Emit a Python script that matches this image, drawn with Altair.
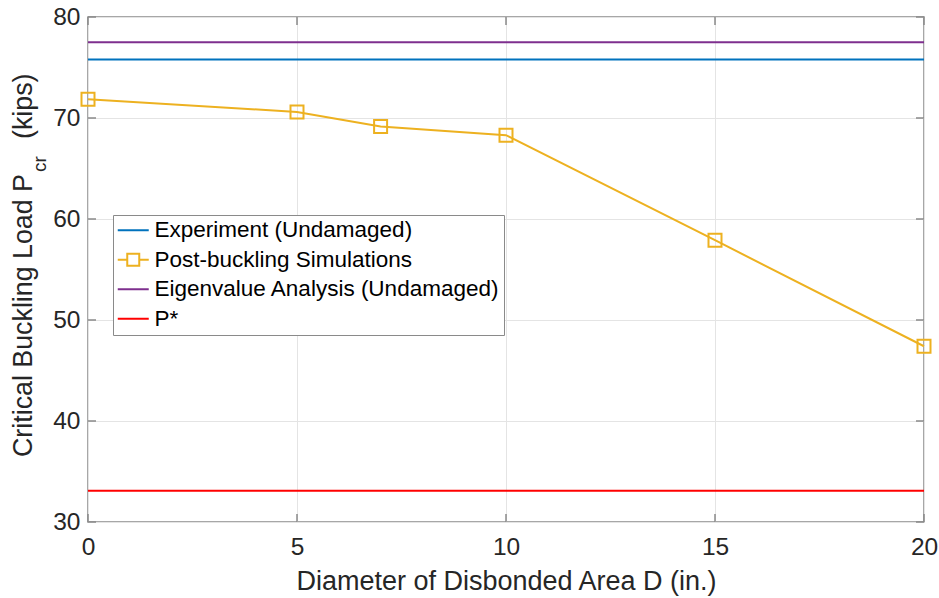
import altair as alt
import pandas as pd

FONT = "Liberation Sans"
TXT = "#262626"
BOX = "#8a8a8a"

# ---- data ----
D = [0, 5, 7, 10, 15, 20]
P_sim = [71.85, 70.6, 69.15, 68.3, 57.9, 47.4]
P_exp = 75.8
P_eig = 77.5
P_star = 33.1
series = ["Experiment (Undamaged)", "Post-buckling Simulations",
          "Eigenvalue Analysis (Undamaged)", "P*"]
colors = ["#0072BD", "#EDB120", "#7E2F8E", "#FF0000"]
x_ticks = [0, 5, 10, 15, 20]
y_ticks = [30, 40, 50, 60, 70, 80]
x_range = [0, 20]

rows = []
for x in x_range:
    rows.append({"series": series[0], "D": x, "P": P_exp})
for x, p in zip(D, P_sim):
    rows.append({"series": series[1], "D": x, "P": p})
for x in x_range:
    rows.append({"series": series[2], "D": x, "P": P_eig})
for x in x_range:
    rows.append({"series": series[3], "D": x, "P": P_star})
df = pd.DataFrame(rows)
sim = pd.DataFrame({"D": D, "P": P_sim})
xt = pd.DataFrame({"v": x_ticks})
yt = pd.DataFrame({"v": y_ticks})

W, H = 836, 505

xscale = alt.Scale(domain=[0, 20], nice=False, zero=False)
yscale = alt.Scale(domain=[30, 80], nice=False, zero=False)

xaxis = alt.Axis(values=x_ticks, grid=True, gridColor="#e4e4e4", domain=False, ticks=False,
                 labelFontSize=24.5, labelFont=FONT, labelColor=TXT, labelPadding=13,
                 labelFlush=False, labelOverlap=False,
                 title="Diameter of Disbonded Area D (in.)", titleFontSize=27,
                 titleFont=FONT, titleColor=TXT, titleFontWeight="normal", titlePadding=10)
yaxis = alt.Axis(values=y_ticks, grid=True, gridColor="#e4e4e4", domain=False, ticks=False,
                 labelFontSize=24.5, labelFont=FONT, labelColor=TXT, labelPadding=8,
                 labelFlush=False, labelOverlap=False, title=None)

line_path = "M-1.55,0H1.55"
sq_path = "M-1.55,0H-0.6M0.6,0H1.55M-0.6,-0.6H0.6V0.6H-0.6Z"
shape_sig = ("datum.value === 'Post-buckling Simulations' ? '%s' : '%s'" % (sq_path, line_path))

legend = alt.Legend(
    title=None, orient="none", legendX=25, legendY=198, direction="vertical",
    fillColor="white", strokeColor=BOX, padding=4,
    labelFontSize=22.5, labelFont=FONT, labelColor="#000000", labelLimit=600,
    symbolSize=400, symbolStrokeWidth=2, rowPadding=6.5, labelOffset=10, symbolOffset=5,
    symbolType=alt.ExprRef(expr=shape_sig), symbolFillColor="transparent",
)

lines = alt.Chart(df).mark_line(strokeWidth=2).encode(
    x=alt.X("D:Q", scale=xscale, axis=xaxis),
    y=alt.Y("P:Q", scale=yscale, axis=yaxis),
    color=alt.Color("series:N", scale=alt.Scale(domain=series, range=colors),
                    sort=series, legend=legend),
    detail="series:N",
)

squares = alt.Chart(sim).mark_point(shape="square", filled=False, size=169,
                                    strokeWidth=2, color=colors[1], opacity=1).encode(
    x=alt.X("D:Q", scale=xscale),
    y=alt.Y("P:Q", scale=yscale),
)

tk = dict(color=BOX, strokeWidth=1.5)
t_bottom = alt.Chart(xt).mark_rule(**tk).encode(
    x=alt.X("v:Q", scale=xscale), y=alt.value(H), y2=alt.value(H - 8))
t_top = alt.Chart(xt).mark_rule(**tk).encode(
    x=alt.X("v:Q", scale=xscale), y=alt.value(0), y2=alt.value(8))
t_left = alt.Chart(yt).mark_rule(**tk).encode(
    y=alt.Y("v:Q", scale=yscale), x=alt.value(0), x2=alt.value(8))
t_right = alt.Chart(yt).mark_rule(**tk).encode(
    y=alt.Y("v:Q", scale=yscale), x=alt.value(W), x2=alt.value(W - 8))

one = pd.DataFrame({"k": [0]})
ytitle_main = alt.Chart(one).mark_text(
    text="Critical Buckling Load P", angle=270, align="left", baseline="alphabetic",
    fontSize=26.8, font=FONT, color=TXT).encode(x=alt.value(-56), y=alt.value(440))
ytitle_sub = alt.Chart(one).mark_text(
    text="cr", angle=270, align="left", baseline="alphabetic",
    fontSize=19, font=FONT, color=TXT).encode(x=alt.value(-42), y=alt.value(155))
ytitle_end = alt.Chart(one).mark_text(
    text="(kips)", angle=270, align="left", baseline="alphabetic",
    fontSize=26.8, font=FONT, color=TXT).encode(x=alt.value(-56), y=alt.value(122))

chart = alt.layer(
    lines, squares, t_bottom, t_top, t_left, t_right,
    ytitle_main, ytitle_sub, ytitle_end,
).properties(
    width=W, height=H,
    autosize=alt.AutoSizeParams(type="none"),
    padding={"left": 88, "top": 17, "right": 15, "bottom": 76},
    background="white",
).configure_view(stroke=BOX, strokeWidth=1.5)

chart.save("out.html", embed_options={"renderer": "svg", "actions": False})
